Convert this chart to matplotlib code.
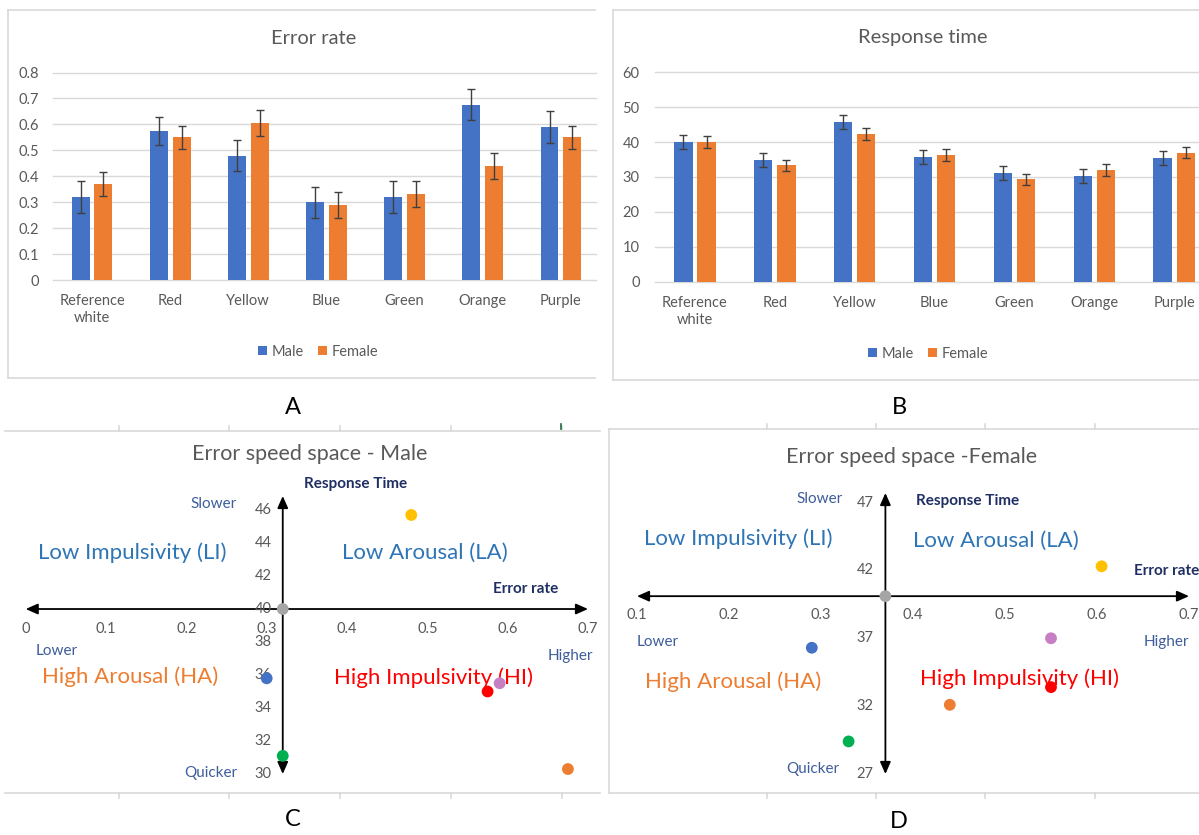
import matplotlib
matplotlib.use('Agg')
import matplotlib.pyplot as plt
from matplotlib.lines import Line2D
import numpy as np

plt.rcParams['font.family'] = ['Lato', 'DejaVu Sans']

# ---------------- data ----------------
categories = ['Reference\nwhite', 'Red', 'Yellow', 'Blue', 'Green', 'Orange', 'Purple']
series_names = ['Male', 'Female']

male_error = [0.32, 0.575, 0.48, 0.30, 0.32, 0.675, 0.59]
female_error = [0.37, 0.55, 0.605, 0.29, 0.33, 0.44, 0.55]
male_error_sd = [0.06, 0.055, 0.06, 0.06, 0.06, 0.06, 0.06]
female_error_sd = [0.047, 0.045, 0.05, 0.05, 0.05, 0.05, 0.045]

male_rt = [40.0, 35.0, 45.7, 35.8, 31.1, 30.3, 35.5]
female_rt = [40.1, 33.4, 42.3, 36.3, 29.4, 32.1, 37.0]
male_rt_sd = [2.0, 2.0, 2.0, 2.0, 2.0, 2.0, 2.0]
female_rt_sd = [1.7, 1.6, 1.7, 1.6, 1.6, 1.7, 1.6]

error_ticks = [0, 0.1, 0.2, 0.3, 0.4, 0.5, 0.6, 0.7, 0.8]
error_tick_labels = ['0', '0.1', '0.2', '0.3', '0.4', '0.5', '0.6', '0.7', '0.8']
rt_ticks = [0, 10, 20, 30, 40, 50, 60]
rt_tick_labels = ['0', '10', '20', '30', '40', '50', '60']

male_x_ticks = [0, 0.1, 0.2, 0.3, 0.4, 0.5, 0.6, 0.7]
male_x_labels = ['0', '0.1', '0.2', '0.3', '0.4', '0.5', '0.6', '0.7']
male_y_ticks = [30, 32, 34, 36, 38, 40, 42, 44, 46]
female_x_ticks = [0.1, 0.2, 0.3, 0.4, 0.5, 0.6, 0.7]
female_x_labels = ['0.1', '0.2', '0.3', '0.4', '0.5', '0.6', '0.7']
female_y_ticks = [27, 32, 37, 42, 47]

# ---------------- style ----------------
MALE_C = '#4472C4'
FEMALE_C = '#ED7D31'
point_colors = ['#A5A5A5', '#FF0000', '#FFC000', '#4472C4', '#00B050', '#ED7D31', '#C77FC3']
GRAY_TXT = '#595959'
GRID_C = '#D9D9D9'
FRAME_C = '#D9D9D9'
NAVY = '#1F2F63'
SLATE = '#3F5D9B'

W, H = 1199, 835
fig = plt.figure(figsize=(W / 100, H / 100), dpi=100)


def rect(x0, y0, x1, y1):
    return [x0 / W, 1 - y1 / H, (x1 - x0) / W, (y1 - y0) / H]


def fx(px):
    return px / W


def fy(py):
    return 1 - py / H


# background axes in pixel coordinates for frames and labels
bg = fig.add_axes([0, 0, 1, 1])
bg.set_xlim(0, W)
bg.set_ylim(H, 0)
bg.axis('off')


def line(x0, y0, x1, y1, color=FRAME_C, lw=1.2):
    bg.add_line(Line2D([x0, x1], [y0, y1], color=color, lw=lw))


# frames
line(8, 10, 595, 10); line(8, 10, 8, 378); line(8, 378, 595, 378)
line(613, 10, 1199, 10); line(613, 10, 613, 380); line(613, 380, 1199, 380)
line(5, 431, 600, 431); line(5, 793, 600, 793)
for tx in [119, 229, 340, 451, 562]:
    line(tx, 426, tx, 431)
    line(tx, 793, tx, 798)
line(561, 424, 561, 429, color='#1E6B3A', lw=1.2)
line(609, 429, 1199, 429); line(609, 429, 609, 793); line(609, 793, 1199, 793)
for tx in [767, 876, 985, 1095]:
    line(tx, 424, tx, 429)
    line(tx, 793, tx, 798)

# panel letters
for letter, (px, py) in zip('ABCD', [(293, 407), (899, 407), (293, 820), (899, 822)]):
    bg.text(px, py, letter, fontsize=17, color='black', ha='center', va='center')


# ---------------- bar panels ----------------
def bar_panel(r, male, female, msd, fsd, ymax, ticks, labels, xright, title,
              title_xy, legend_xy, ypad):
    ax = fig.add_axes(r)
    ax.set_facecolor('none')
    x = np.arange(len(categories))
    w, off = 0.23, 0.145
    ekw = dict(ecolor='#404040', elinewidth=1, capsize=3, capthick=1)
    ax.bar(x - off, male, w, color=MALE_C, yerr=msd, error_kw=ekw, label=series_names[0], zorder=3)
    ax.bar(x + off, female, w, color=FEMALE_C, yerr=fsd, error_kw=ekw, label=series_names[1], zorder=3)
    ax.set_xlim(-0.5, xright)
    ax.set_ylim(0, ymax)
    ax.set_yticks(ticks)
    ax.set_yticklabels(labels)
    ax.set_xticks(x)
    ax.set_xticklabels(categories, linespacing=1.3)
    ax.grid(axis='y', color=GRID_C, lw=1, zorder=0)
    for gl in ax.get_ygridlines():
        gl.set_clip_on(False)
    ax.set_axisbelow(True)
    for s in ax.spines.values():
        s.set_visible(False)
    ax.tick_params(axis='y', length=0, labelsize=10.5, labelcolor=GRAY_TXT, pad=ypad)
    ax.tick_params(axis='x', length=0, labelsize=10.5, labelcolor=GRAY_TXT, pad=10)
    bg.text(title_xy[0], title_xy[1], title, fontsize=14.5, color=GRAY_TXT, ha='center', va='center')
    ax.legend(loc='center', bbox_to_anchor=(fx(legend_xy[0]), fy(legend_xy[1])),
              bbox_transform=fig.transFigure, ncol=2, frameon=False, fontsize=10.5,
              handlelength=0.6, handleheight=0.6, handletextpad=0.3, columnspacing=1.0,
              labelcolor=GRAY_TXT)
    return ax


bar_panel(rect(53, 72.5, 596, 280), male_error, female_error, male_error_sd, female_error_sd,
          0.8, error_ticks, error_tick_labels, 6.45, 'Error rate', (314, 39), (318, 352), 10)
bar_panel(rect(655, 72.3, 1199, 281.7), male_rt, female_rt, male_rt_sd, female_rt_sd,
          60, rt_ticks, rt_tick_labels, 6.31, 'Response time', (923, 38), (928, 354), 11)


# ---------------- scatter panels ----------------
def space_panel(r, errs, rts, xlim, ylim, xticks, xlabels, yticks, xoff, yoff, title, title_xy, texts):
    ax = fig.add_axes(r)
    ax.set_xlim(*xlim)
    ax.set_ylim(*ylim)
    ax.axis('off')
    xc, yc = errs[0], rts[0]
    ap = dict(arrowstyle='<|-|>,head_length=0.45,head_width=0.2', color='black', lw=1.3,
              shrinkA=0, shrinkB=0, mutation_scale=16)
    ax.annotate('', xy=(xlim[1], yc), xytext=(xlim[0], yc), arrowprops=ap, annotation_clip=False)
    ax.annotate('', xy=(xc, ylim[1]), xytext=(xc, ylim[0]), arrowprops=ap, annotation_clip=False)
    for v, lab in zip(xticks, xlabels):
        ax.annotate(lab, xy=(v, yc), xytext=(0, xoff), textcoords='offset pixels', ha='center',
                    va='center', fontsize=10.5, color=GRAY_TXT, annotation_clip=False)
    for v in yticks:
        ax.annotate(str(v), xy=(xc, v), xytext=(yoff, 0), textcoords='offset pixels', ha='right',
                    va='center', fontsize=10.5, color=GRAY_TXT, annotation_clip=False)
    for (s, px, py, col, size, weight) in texts:
        ax.text(px, py, s, transform=bg.transData, fontsize=size, color=col, fontweight=weight,
                ha='center', va='center', zorder=3)
    ax.text(title_xy[0], title_xy[1], title, transform=bg.transData, fontsize=15.5, color=GRAY_TXT,
            ha='center', va='center')
    ax.scatter(errs, rts, s=72, c=point_colors, linewidths=0, zorder=6, clip_on=False)
    return ax


male_texts = [
    ('Response Time', 356, 484, NAVY, 11, 'bold'),
    ('Slower', 214, 504, SLATE, 11, 'normal'),
    ('Low Impulsivity (LI)', 132, 553, '#2E75B6', 16, 'normal'),
    ('Low Arousal (LA)', 425, 553, '#2E75B6', 16, 'normal'),
    ('Error rate', 526, 589, NAVY, 11, 'bold'),
    ('Lower', 57, 651, SLATE, 11, 'normal'),
    ('Higher', 570, 656, SLATE, 11, 'normal'),
    ('High Arousal (HA)', 130, 677, '#ED7D31', 16, 'normal'),
    ('High Impulsivity (HI)', 433, 678, '#FF0000', 16, 'normal'),
    ('Quicker', 211, 773, SLATE, 11, 'normal'),
]
female_texts = [
    ('Slower', 820, 499, SLATE, 11, 'normal'),
    ('Response Time', 968, 501, NAVY, 11, 'bold'),
    ('Low Impulsivity (LI)', 738, 539, '#2E75B6', 16, 'normal'),
    ('Low Arousal (LA)', 996, 541, '#2E75B6', 16, 'normal'),
    ('Error rate', 1167, 571, NAVY, 11, 'bold'),
    ('Lower', 658, 642, SLATE, 11, 'normal'),
    ('Higher', 1166, 642, SLATE, 11, 'normal'),
    ('High Arousal (HA)', 733, 682, '#ED7D31', 16, 'normal'),
    ('High Impulsivity (HI)', 1019, 679, '#FF0000', 16, 'normal'),
    ('Quicker', 813, 769, SLATE, 11, 'normal'),
]

space_panel(rect(25.7, 496, 588, 774), male_error, male_rt, (0, 0.7), (30, 46.85),
            male_x_ticks, male_x_labels, male_y_ticks, -20, -11,
            'Error speed space - Male', (310, 454), male_texts)
space_panel(rect(637, 493, 1189, 774), female_error, female_rt, (0.1, 0.7), (27, 47.7),
            female_x_ticks, female_x_labels, female_y_ticks, -19, -12,
            'Error speed space -Female', (912, 457), female_texts)

fig.savefig('out.png', dpi=100, facecolor='white')
